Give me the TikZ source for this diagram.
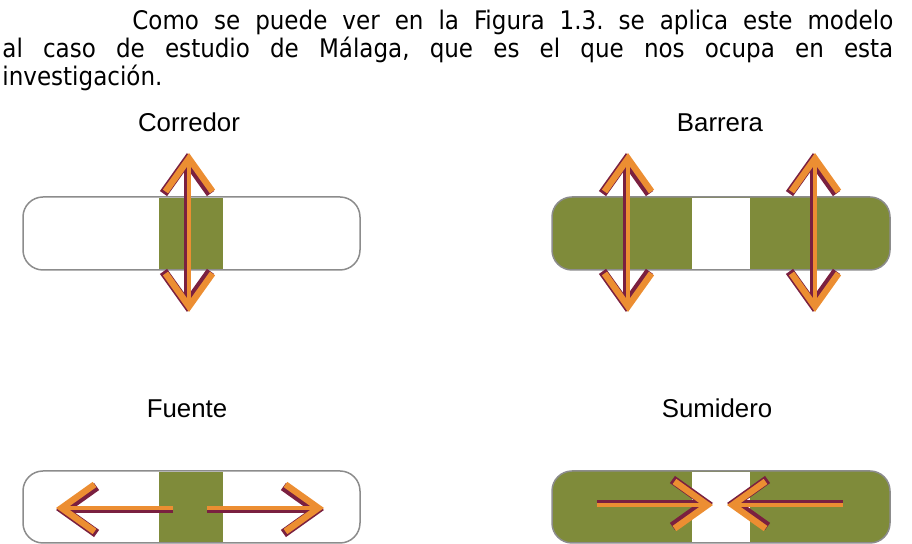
\documentclass[tikz,border=0pt]{standalone}
\usepackage{fontspec}
\setmainfont{DejaVu Sans Condensed}
\newfontfamily\etiqfont{Liberation Sans}
\usepackage{tikz}
\usetikzlibrary{arrows.meta,positioning}
\frenchspacing

\definecolor{verde}{RGB}{127,139,58}
\definecolor{naranja}{RGB}{236,142,50}
\definecolor{granate}{RGB}{122,32,64}
\definecolor{borde}{RGB}{140,140,140}

\tikzset{
  ps/.tip={Straight Barb[sharp,length=16.5pt,width=23.5pt,line width=4.4pt]},
  pn/.tip={Straight Barb[sharp,length=16.5pt,width=23.5pt,line width=3.2pt]},
  parrafo/.style={anchor=north west, inner sep=0pt, text width=445.5pt, align=justify,
    font=\fontsize{12.8}{11.35}\selectfont},
  etiqueta/.style={anchor=base, inner sep=0pt, font=\etiqfont\fontsize{12.9}{15}\selectfont},
  capsula/.style={draw=borde, line width=0.75pt, rounded corners=10pt, inner sep=0pt, outer sep=0pt,
    minimum width=168.5pt, minimum height=36.5pt},
  bloque/.style={inner sep=0pt, outer sep=0pt, minimum height=35.75pt},
  flecha/.style={draw=naranja, line width=2pt},
  sombra/.style={draw=granate, line width=2.6pt, transform canvas={shift={#1}}}
}

\begin{document}
\begin{tikzpicture}[x=0.5pt, y=-0.5pt]
   \useasboundingbox (0,0) rectangle (912,544);

   \node[parrafo] (texto) at (2,10) {\hspace*{65pt}Como se puede ver en la Figura 1.3. se aplica este modelo\linebreak al caso de estudio de Málaga, que es el que nos ocupa en esta\linebreak investigación.};

   %corredor
   \node[capsula, fill=white] (c1) at (191.5,233.5) {};
   \node[bloque, fill=verde, minimum width=32pt] (b1) at (191,233.5) {};
   \node[etiqueta] (corr) at (189,132) {Corredor};
   \coordinate (c1n) at (189,153);
   \coordinate (c1s) at (189,312);

   %barrera
   \node[capsula, fill=verde, minimum width=169pt] (c2) at (721,233.5) {};
   \node[bloque, fill=white, minimum width=29pt] (b2) at (721,233.5) {};
   \node[etiqueta] (barr) at (720,132) {Barrera};
   \coordinate (c2n) at (628,153);
   \coordinate (c2s) at (628,312);
   \coordinate (c3n) at (815,153);
   \coordinate (c3s) at (815,312);

   %fuente
   \node[capsula, fill=white, minimum height=36pt] (c4) at (191.5,507) {};
   \node[bloque, fill=verde, minimum width=32pt, minimum height=35.25pt] (b4) at (191,507) {};
   \node[etiqueta] (fuen) at (187,418) {Fuente};
   \coordinate (f1a) at (173,508);
   \coordinate (f1b) at (56,508);
   \coordinate (f2a) at (207,508);
   \coordinate (f2b) at (324,508);

   %sumidero
   \node[capsula, fill=verde, minimum width=169pt, minimum height=36pt] (c5) at (721,507) {};
   \node[bloque, fill=white, minimum width=29pt, minimum height=35.25pt] (b5) at (721,507) {};
   \node[etiqueta] (sumi) at (717,418) {Sumidero};
   \coordinate (s1a) at (597,505);
   \coordinate (s1b) at (713,505);
   \coordinate (s2a) at (843,505);
   \coordinate (s2b) at (727,505);

   %flechas verticales
   \path
     (c1n) edge[sombra={(-1pt,0pt)}, ps-ps] (c1s)
     (c2n) edge[sombra={(-1pt,0pt)}, ps-ps] (c2s)
     (c3n) edge[sombra={(-1pt,0pt)}, ps-ps] (c3s)
     (c1n) edge[flecha, pn-pn] (c1s)
     (c2n) edge[flecha, pn-pn] (c2s)
     (c3n) edge[flecha, pn-pn] (c3s);

   %flechas horizontales
   \path
     (f1a) edge[sombra={(0pt,-1pt)}, -ps] (f1b)
     (f2a) edge[sombra={(0pt,-1pt)}, -ps] (f2b)
     (s1a) edge[sombra={(0pt,1pt)}, -ps] (s1b)
     (s2a) edge[sombra={(0pt,1pt)}, -ps] (s2b)
     (f1a) edge[flecha, -pn] (f1b)
     (f2a) edge[flecha, -pn] (f2b)
     (s1a) edge[flecha, -pn] (s1b)
     (s2a) edge[flecha, -pn] (s2b);
\end{tikzpicture}
\end{document}
